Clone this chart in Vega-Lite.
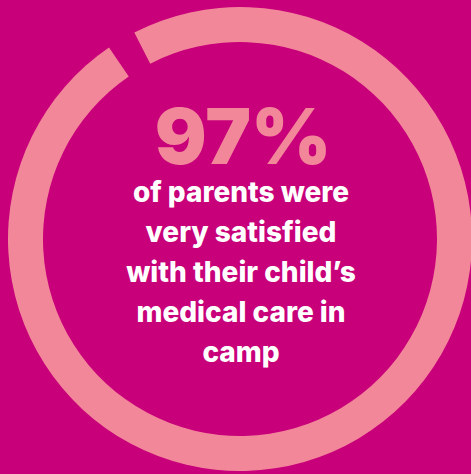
{
  "$schema": "https://vega.github.io/schema/vega-lite/v6.json",
  "width": 471,
  "height": 474,
  "autosize": {"type": "fit", "contains": "padding"},
  "padding": {"left": 9, "top": 4, "right": 0, "bottom": 0},
  "background": "#C8007A",
  "config": {"view": {"stroke": null}},
  "data": {"values": [{"metric": "very satisfied", "value": 97, "headline": "97%", "caption": "of parents were\nvery satisfied\nwith their child’s\nmedical care in\ncamp"}]},
  "layer": [
    {
      "mark": {"type": "arc", "outerRadius": 232, "innerRadius": 197, "color": "#F3879A"},
      "encoding": {
        "theta": {"field": "value", "type": "quantitative", "scale": {"domain": [0, 99], "range": [-0.473, 5.810]}}
      }
    },
    {
      "mark": {"type": "text", "font": "Inter", "fontWeight": 900, "fontSize": 77, "letterSpacing": 5, "color": "#F3879A", "align": "center", "baseline": "alphabetic", "dy": -75, "dx": 3},
      "encoding": {"text": {"field": "headline"}}
    },
    {
      "mark": {"type": "text", "font": "Inter", "fontWeight": 800, "fontSize": 28, "letterSpacing": 1.8, "color": "#FFFFFF", "align": "center", "baseline": "alphabetic", "dy": -37, "dx": 1, "lineBreak": "\n", "lineHeight": 40},
      "encoding": {"text": {"field": "caption"}}
    }
  ]
}
